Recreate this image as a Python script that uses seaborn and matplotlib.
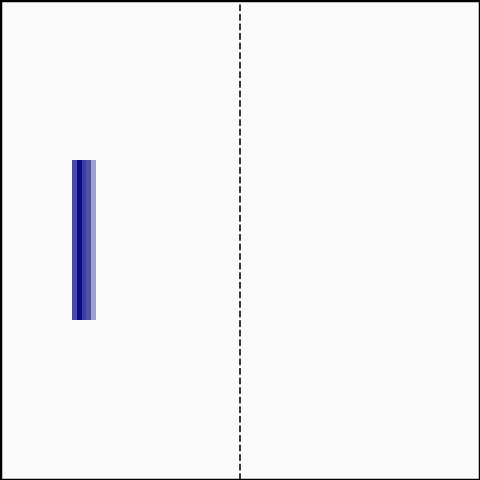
import numpy as np
import pandas as pd
import matplotlib
matplotlib.use("Agg")
import matplotlib.pyplot as plt
import seaborn as sns
from matplotlib.colors import LinearSegmentedColormap

# stripe intensities (0 = white, 1 = navy)
stripe_values = [0.71, 0.96, 0.76, 0.69, 0.38]
stripe_start = 15          # first column holding a stripe
n_cols = 100
n_rows = 3
filled_row = 1
marker_col = 50            # dashed reference line

grid = np.full((n_rows, n_cols), np.nan)
for i, v in enumerate(stripe_values):
    grid[filled_row, stripe_start + i] = v
df = pd.DataFrame(grid)

cmap = LinearSegmentedColormap.from_list("navy", ["#ffffff", "#000080"])

fig = plt.figure(figsize=(4.8, 4.8), dpi=100)
fig.patch.set_facecolor("#fafafa")
ax = fig.add_axes([0, 0, 1, 1])
ax.set_facecolor("#fafafa")
sns.heatmap(df, ax=ax, cmap=cmap, vmin=0, vmax=1, cbar=False,
            xticklabels=False, yticklabels=False)
ax.axvline(marker_col, color="#222222", linestyle="--", linewidth=1.3)
for s in ax.spines.values():
    s.set_visible(True)
    s.set_color("black")
    s.set_linewidth(2.5)
ax.set_xlabel("")
ax.set_ylabel("")
fig.savefig("out.png", dpi=100, facecolor=fig.get_facecolor())
